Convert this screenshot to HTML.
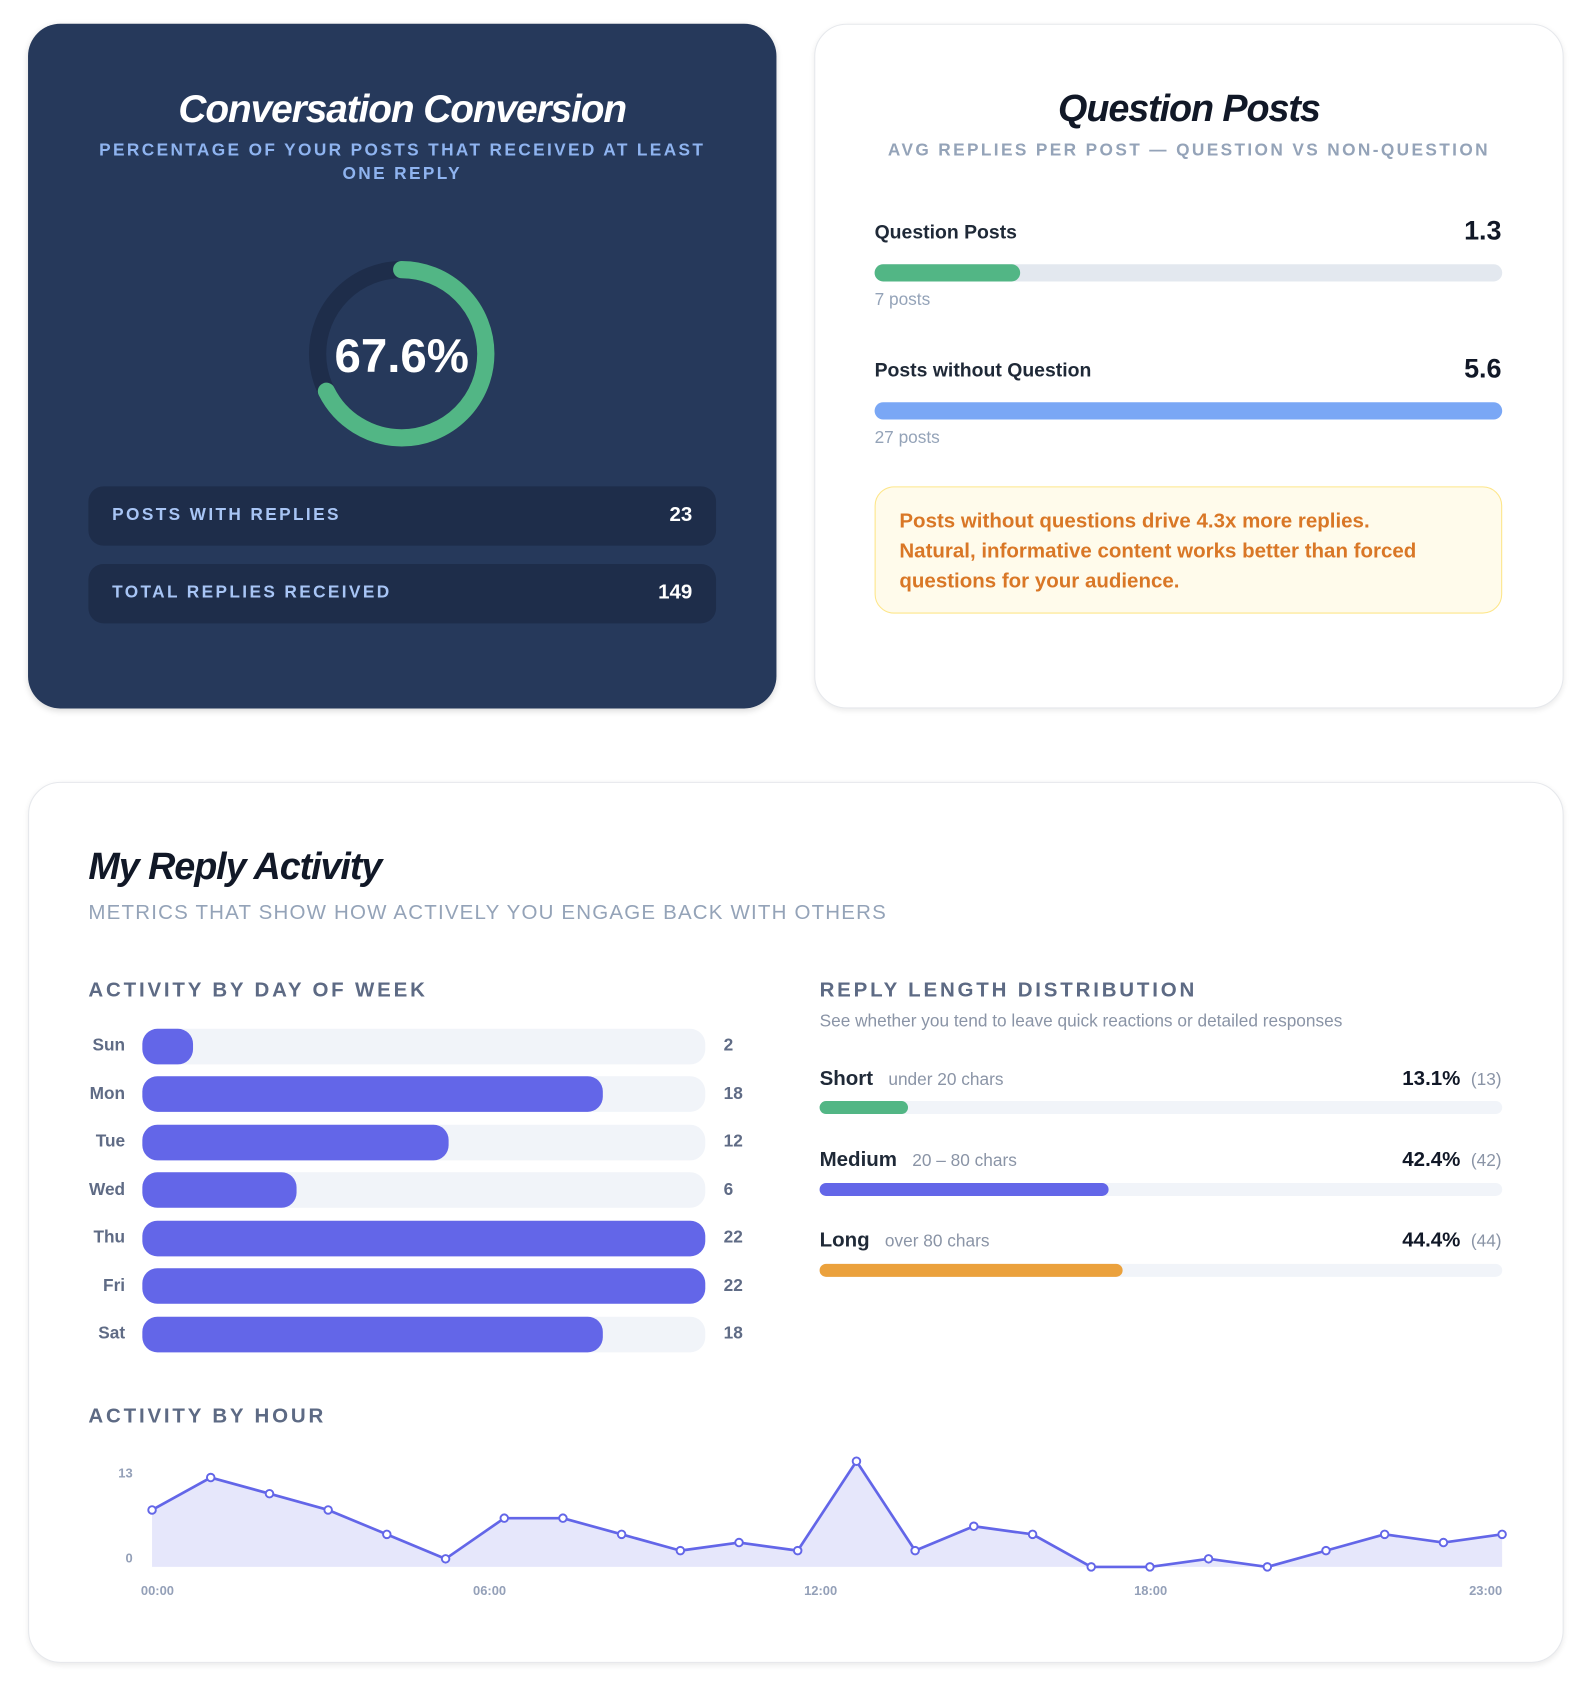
<!DOCTYPE html>
<html><head><meta charset="utf-8"><style>
*{box-sizing:border-box;margin:0;padding:0}
html,body{width:1590px;height:1690px;overflow:hidden;background:#fff;font-family:"Liberation Sans",sans-serif}
#w{position:absolute;left:0;top:0;width:1474.4px;height:1567px;transform:scale(1.0784);transform-origin:0 0}
.a{position:absolute;white-space:nowrap}
.card{position:absolute;border-radius:30px}
.dark{background:#26395b;box-shadow:0 2px 6px rgba(0,0,0,.15)}
.white{background:#fff;border:1px solid #e6e8ec;box-shadow:0 2px 5px rgba(0,0,0,.08)}
.ttl{font-weight:bold;font-style:italic;font-size:35px;letter-spacing:-1px}
.row{position:absolute;left:82px;width:582px;height:55px;background:#1e2d4a;border-radius:14px}
.row .l{position:absolute;left:22px;top:18px;font-size:16px;font-weight:bold;letter-spacing:2.2px;color:#a8c5f5}
.row .v{position:absolute;right:22px;top:16px;font-size:19px;font-weight:bold;color:#fff}
.sec{font-size:19px;font-weight:bold;letter-spacing:2.6px;color:#5d6a84}
.trk{position:absolute;background:#f1f4f9}
.fil{position:absolute;left:0;top:0;height:100%}
.dl{position:absolute;width:60px;left:56px;text-align:right;font-size:16px;font-weight:bold;color:#5f6b85}
.dv{position:absolute;left:671px;font-size:16px;font-weight:bold;color:#5f6b85}
.rl{font-size:19px;font-weight:bold;color:#1f2937}
.rs{font-size:16px;color:#8a94a6;font-weight:normal}
</style></head><body><div id="w">

<div class="card dark" style="left:26px;top:22px;width:694px;height:635px"></div>
<div class="a ttl" style="left:26px;width:694px;text-align:center;top:80px;color:#fff;font-size:36px">Conversation Conversion</div>
<div class="a" style="left:80px;width:586px;text-align:center;top:129px;white-space:normal;font-size:16px;font-weight:bold;letter-spacing:2.2px;line-height:22px;color:#8fb4f0">PERCENTAGE OF YOUR POSTS THAT RECEIVED AT LEAST ONE REPLY</div>
<svg class="a" style="left:0;top:0" width="720" height="660">
<circle cx="372.5" cy="328" r="78" fill="none" stroke="#1e2d4a" stroke-width="16"/>
<circle cx="372.5" cy="328" r="78" fill="none" stroke="#52b685" stroke-width="16" stroke-linecap="round" stroke-dasharray="331.3 1000" transform="rotate(-90 372.5 328)"/>
<text x="372.5" y="345" text-anchor="middle" font-family="Liberation Sans" font-weight="bold" font-size="44" fill="#fff">67.6%</text>
</svg>
<div class="row" style="top:451px"><span class="l">POSTS WITH REPLIES</span><span class="v">23</span></div>
<div class="row" style="top:523px"><span class="l">TOTAL REPLIES RECEIVED</span><span class="v">149</span></div>

<div class="card white" style="left:755px;top:22px;width:695px;height:635px"></div>
<div class="a ttl" style="left:755px;width:695px;text-align:center;top:81px;color:#111827">Question Posts</div>
<div class="a" style="left:755px;width:695px;text-align:center;top:131px;font-size:16px;font-weight:bold;letter-spacing:2.2px;color:#94a3b8">AVG REPLIES PER POST — QUESTION VS NON-QUESTION</div>
<div class="a" style="left:811px;top:205px;font-size:18px;font-weight:bold;color:#1f2937">Question Posts</div>
<div class="a" style="right:82px;top:200px;font-size:25px;font-weight:bold;color:#111827">1.3</div>
<div class="trk" style="left:811px;top:245px;width:582px;height:16px;border-radius:8px;background:#e3e8ef"><div class="fil" style="width:135px;background:#52b685;border-radius:8px"></div></div>
<div class="a" style="left:811px;top:270px;font-size:16px;color:#94a3b8">7 posts</div>
<div class="a" style="left:811px;top:333px;font-size:18px;font-weight:bold;color:#1f2937">Posts without Question</div>
<div class="a" style="right:82px;top:328px;font-size:25px;font-weight:bold;color:#111827">5.6</div>
<div class="trk" style="left:811px;top:373px;width:582px;height:16px;border-radius:8px;background:#7aa7f5"></div>
<div class="a" style="left:811px;top:398px;font-size:16px;color:#94a3b8">27 posts</div>
<div class="a" style="left:811px;top:451px;width:582px;height:118px;background:#fffbeb;border:1px solid #fde68a;border-radius:18px;white-space:nowrap;padding:18px 22px;font-size:19px;font-weight:bold;line-height:28px;color:#d97726">Posts without questions drive 4.3x more replies.<br>Natural, informative content works better than forced<br>questions for your audience.</div>

<div class="card white" style="left:26px;top:725px;width:1424px;height:817px"></div>
<div class="a ttl" style="left:82px;top:784px;color:#111827">My Reply Activity</div>
<div class="a" style="left:82px;top:836px;font-size:19px;letter-spacing:1.1px;color:#94a3b8">METRICS THAT SHOW HOW ACTIVELY YOU ENGAGE BACK WITH OTHERS</div>

<div class="a sec" style="left:82px;top:908px">ACTIVITY BY DAY OF WEEK</div>
<div class="dl" style="top:961px">Sun</div><div class="trk" style="left:132px;top:954px;width:522px;height:33px;border-radius:14px"><div class="fil" style="width:47px;background:#6366e8;border-radius:14px"></div></div><div class="dv" style="top:961px">2</div>
<div class="dl" style="top:1006px">Mon</div><div class="trk" style="left:132px;top:998px;width:522px;height:33px;border-radius:14px"><div class="fil" style="width:427px;background:#6366e8;border-radius:14px"></div></div><div class="dv" style="top:1006px">18</div>
<div class="dl" style="top:1050px">Tue</div><div class="trk" style="left:132px;top:1043px;width:522px;height:33px;border-radius:14px"><div class="fil" style="width:284px;background:#6366e8;border-radius:14px"></div></div><div class="dv" style="top:1050px">12</div>
<div class="dl" style="top:1095px">Wed</div><div class="trk" style="left:132px;top:1087px;width:522px;height:33px;border-radius:14px"><div class="fil" style="width:143px;background:#6366e8;border-radius:14px"></div></div><div class="dv" style="top:1095px">6</div>
<div class="dl" style="top:1139px">Thu</div><div class="trk" style="left:132px;top:1132px;width:522px;height:33px;border-radius:14px"><div class="fil" style="width:522px;background:#6366e8;border-radius:14px"></div></div><div class="dv" style="top:1139px">22</div>
<div class="dl" style="top:1184px">Fri</div><div class="trk" style="left:132px;top:1176px;width:522px;height:33px;border-radius:14px"><div class="fil" style="width:522px;background:#6366e8;border-radius:14px"></div></div><div class="dv" style="top:1184px">22</div>
<div class="dl" style="top:1228px">Sat</div><div class="trk" style="left:132px;top:1221px;width:522px;height:33px;border-radius:14px"><div class="fil" style="width:427px;background:#6366e8;border-radius:14px"></div></div><div class="dv" style="top:1228px">18</div>

<div class="a sec" style="left:760px;top:908px">REPLY LENGTH DISTRIBUTION</div>
<div class="a" style="left:760px;top:939px;font-size:16px;color:#8a94a6">See whether you tend to leave quick reactions or detailed responses</div>

<div class="a rl" style="left:760px;top:990px">Short <span class="rs">&nbsp; under 20 chars</span></div>
<div class="a rl" style="right:82px;top:990px;color:#111827">13.1% <span class="rs">&nbsp;(13)</span></div>
<div class="trk" style="left:760px;top:1021px;width:633px;height:12px;border-radius:6px"><div class="fil" style="width:82px;background:#52b685;border-radius:6px"></div></div>
<div class="a rl" style="left:760px;top:1065px">Medium <span class="rs">&nbsp; 20 – 80 chars</span></div>
<div class="a rl" style="right:82px;top:1065px;color:#111827">42.4% <span class="rs">&nbsp;(42)</span></div>
<div class="trk" style="left:760px;top:1097px;width:633px;height:12px;border-radius:6px"><div class="fil" style="width:268px;background:#6366e8;border-radius:6px"></div></div>
<div class="a rl" style="left:760px;top:1140px">Long <span class="rs">&nbsp; over 80 chars</span></div>
<div class="a rl" style="right:82px;top:1140px;color:#111827">44.4% <span class="rs">&nbsp;(44)</span></div>
<div class="trk" style="left:760px;top:1172px;width:633px;height:12px;border-radius:6px"><div class="fil" style="width:281px;background:#eba13c;border-radius:6px"></div></div>

<div class="a sec" style="left:82px;top:1303px">ACTIVITY BY HOUR</div>
<svg class="a" style="left:0;top:0" width="1474" height="1567">
<polygon fill="#e6e7fb" points="141,1453 141,1400.2 195.4,1370.1 249.9,1385.1 304.3,1400.2 358.7,1422.8 413.2,1445.5 467.6,1407.8 522,1407.8 576.4,1422.8 630.9,1437.9 685.3,1430.4 739.7,1437.9 794.2,1355 848.6,1437.9 903,1415.3 957.5,1422.8 1011.9,1453 1066.3,1453 1120.7,1445.5 1175.2,1453 1229.6,1437.9 1284,1422.8 1338.5,1430.4 1392.9,1422.8 1392.9,1453"/>
<polyline fill="none" stroke="#6366e8" stroke-width="2.5" stroke-linejoin="round" points="141,1400.2 195.4,1370.1 249.9,1385.1 304.3,1400.2 358.7,1422.8 413.2,1445.5 467.6,1407.8 522,1407.8 576.4,1422.8 630.9,1437.9 685.3,1430.4 739.7,1437.9 794.2,1355 848.6,1437.9 903,1415.3 957.5,1422.8 1011.9,1453 1066.3,1453 1120.7,1445.5 1175.2,1453 1229.6,1437.9 1284,1422.8 1338.5,1430.4 1392.9,1422.8"/>
<g fill="#fff" stroke="#6366e8" stroke-width="1.8">
<circle cx="141" cy="1400.2" r="3.5"/><circle cx="195.4" cy="1370.1" r="3.5"/><circle cx="249.9" cy="1385.1" r="3.5"/><circle cx="304.3" cy="1400.2" r="3.5"/><circle cx="358.7" cy="1422.8" r="3.5"/><circle cx="413.2" cy="1445.5" r="3.5"/><circle cx="467.6" cy="1407.8" r="3.5"/><circle cx="522" cy="1407.8" r="3.5"/><circle cx="576.4" cy="1422.8" r="3.5"/><circle cx="630.9" cy="1437.9" r="3.5"/><circle cx="685.3" cy="1430.4" r="3.5"/><circle cx="739.7" cy="1437.9" r="3.5"/><circle cx="794.2" cy="1355" r="3.5"/><circle cx="848.6" cy="1437.9" r="3.5"/><circle cx="903" cy="1415.3" r="3.5"/><circle cx="957.5" cy="1422.8" r="3.5"/><circle cx="1011.9" cy="1453" r="3.5"/><circle cx="1066.3" cy="1453" r="3.5"/><circle cx="1120.7" cy="1445.5" r="3.5"/><circle cx="1175.2" cy="1453" r="3.5"/><circle cx="1229.6" cy="1437.9" r="3.5"/><circle cx="1284" cy="1422.8" r="3.5"/><circle cx="1338.5" cy="1430.4" r="3.5"/><circle cx="1392.9" cy="1422.8" r="3.5"/>
</g>
<g font-family="Liberation Sans" font-size="12" font-weight="bold" fill="#94a0b8">
<text x="123" y="1370" text-anchor="end">13</text>
<text x="123" y="1449" text-anchor="end">0</text>
<text x="146" y="1479" text-anchor="middle">00:00</text>
<text x="454" y="1479" text-anchor="middle">06:00</text>
<text x="761" y="1479" text-anchor="middle">12:00</text>
<text x="1067" y="1479" text-anchor="middle">18:00</text>
<text x="1393" y="1479" text-anchor="end">23:00</text>
</g>
</svg>
</div></body></html>
